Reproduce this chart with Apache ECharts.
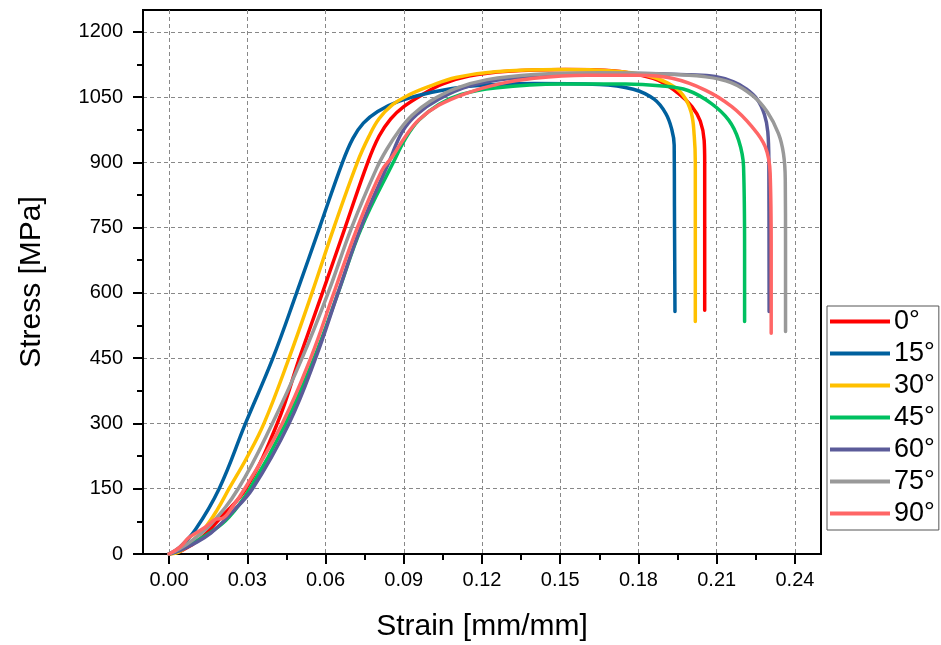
<!DOCTYPE html>
<html>
<head>
<meta charset="utf-8">
<script src="https://cdn.jsdelivr.net/npm/echarts@6/dist/echarts.min.js"></script>
<style>
  html, body { margin: 0; padding: 0; background: #fff; }
  #chart { width: 941px; height: 645px; }
</style>
</head>
<body>
<div id="chart"></div>
<script>
// Tensile test curves: stress [MPa] against strain [mm/mm] for seven orientations.
const seriesNames = ['0°', '15°', '30°', '45°', '60°', '75°', '90°'];

const curve0 = [[0,0],[0.005,8],[0.012,35],[0.02,85],[0.0295,150],[0.0415,300],[0.05,450],[0.0588,600],[0.0675,750],[0.0762,900],[0.0805,960],[0.085,1000],[0.09,1028],[0.097,1055],[0.105,1080],[0.115,1098],[0.13,1109],[0.152,1113],[0.1711,1110],[0.181,1100],[0.1877,1088],[0.1954,1058],[0.2005,1028],[0.2037,995],[0.2052,950],[0.2054,900],[0.2054,560]];
const curve15 = [[0,0],[0.004,15],[0.01,55],[0.0192,150],[0.0293,300],[0.0398,450],[0.0489,600],[0.0577,750],[0.0665,900],[0.0705,955],[0.0745,990],[0.08,1017],[0.088,1040],[0.1,1060],[0.115,1075],[0.14,1081],[0.165,1079],[0.178,1068],[0.186,1045],[0.1905,1012],[0.1928,975],[0.1937,940],[0.1938,800],[0.194,557]];
const curve30 = [[0,0],[0.004,5],[0.0085,28],[0.014,62],[0.0185,102],[0.023,150],[0.0297,220],[0.0364,300],[0.046,450],[0.0548,600],[0.0632,750],[0.0722,900],[0.0766,959],[0.0805,1000],[0.0856,1032],[0.092,1055],[0.1,1075],[0.11,1095],[0.125,1108],[0.15,1113],[0.17,1110],[0.183,1100],[0.1916,1081],[0.197,1055],[0.2002,1015],[0.2014,960],[0.2018,900],[0.2018,534]];
const curve45 = [[0,0],[0.004,8],[0.009,25],[0.016,50],[0.023,85],[0.031,150],[0.0447,300],[0.0556,450],[0.0648,600],[0.0738,750],[0.086,900],[0.0907,955],[0.0958,997],[0.1034,1033],[0.112,1056],[0.125,1071],[0.15,1080],[0.175,1080],[0.188,1076],[0.199,1065],[0.208,1035],[0.2146,997],[0.2184,951],[0.2203,890],[0.2207,700],[0.2207,534]];
const curve60 = [[0,0],[0.004,8],[0.009,22],[0.016,48],[0.024,95],[0.032,150],[0.046,300],[0.0562,450],[0.0648,600],[0.0735,750],[0.0843,900],[0.0894,970],[0.095,1010],[0.1034,1045],[0.115,1075],[0.13,1092],[0.15,1101],[0.18,1104],[0.2,1101],[0.2094,1097],[0.2165,1085],[0.221,1070],[0.2255,1045],[0.2283,1010],[0.2296,970],[0.23,900],[0.2301,557]];
const curve75 = [[0,0],[0.004,12],[0.009,32],[0.016,68],[0.0265,150],[0.0396,300],[0.051,450],[0.061,600],[0.07,750],[0.0795,885],[0.0835,930],[0.0881,972],[0.0932,1008],[0.1,1040],[0.11,1070],[0.122,1090],[0.14,1102],[0.165,1106],[0.19,1103],[0.205,1097],[0.2155,1083],[0.224,1052],[0.2295,1015],[0.2337,966],[0.2356,920],[0.2363,860],[0.2364,700],[0.2364,511]];
const curve90 = [[0,0],[0.004,15],[0.0077,38],[0.014,62],[0.018,80],[0.0205,82],[0.0245,110],[0.029,150],[0.0434,300],[0.0543,450],[0.0632,600],[0.0722,750],[0.0815,880],[0.0856,913],[0.0907,960],[0.0958,998],[0.1034,1031],[0.1137,1058],[0.125,1078],[0.14,1093],[0.16,1100],[0.18,1100],[0.1929,1093],[0.2056,1066],[0.2158,1028],[0.2235,982],[0.2286,936],[0.2305,875],[0.2309,700],[0.2309,507]];

const curves = [curve0, curve15, curve30, curve45, curve60, curve75, curve90];
const colors = ['#FF0000', '#00609E', '#FFC000', '#00C060', '#5B5B99', '#999999', '#FF6666'];

// Axis tick positions
const strainTicks = [0, 0.03, 0.06, 0.09, 0.12, 0.15, 0.18, 0.21, 0.24];
const strainMinorTicks = [0.015, 0.045, 0.075, 0.105, 0.135, 0.165, 0.195, 0.225];
const stressTicks = [0, 150, 300, 450, 600, 750, 900, 1050, 1200];
const stressMinorTicks = [75, 225, 375, 525, 675, 825, 975, 1125];

const FONT = 'Liberation Sans, Arial, sans-serif';
const chart = echarts.init(document.getElementById('chart'), null, { renderer: 'canvas' });

const xRange = { min: -0.01, max: 0.25 };
const yRange = { min: 0, max: 1250 };

chart.setOption({
  animation: false,
  backgroundColor: '#fff',
  grid: {
    left: 143, right: 120, top: 10, bottom: 91,
    outerBoundsMode: 'none',
    show: true, borderColor: '#000', borderWidth: 2, backgroundColor: 'transparent'
  },
  legend: {
    orient: 'vertical',
    left: 827, top: 306,
    width: 113,
    padding: [2, 4, 3, 3],
    itemGap: 5,
    itemWidth: 60, itemHeight: 4,
    icon: 'rect',
    borderColor: '#555', borderWidth: 1,
    textStyle: { fontFamily: FONT, fontSize: 27, color: '#000', padding: [0, 0, 0, -1] },
    data: seriesNames
  },
  xAxis: [{
    type: 'value', position: 'bottom',
    min: xRange.min, max: xRange.max,
    name: 'Strain [mm/mm]', nameLocation: 'middle', nameGap: 58,
    nameTextStyle: { fontFamily: FONT, fontSize: 30, color: '#000' },
    axisLine: { show: true, onZero: false, lineStyle: { color: '#000', width: 2 } },
    axisTick: { show: true, inside: false, length: 10, customValues: strainTicks, lineStyle: { color: '#000', width: 2 } },
    axisLabel: { customValues: strainTicks, margin: 16, fontFamily: FONT, fontSize: 20, color: '#000',
      formatter: v => v.toFixed(2) },
    splitLine: { show: true, lineStyle: { color: '#888', width: 1, type: [4, 3] } }
  }, {
    type: 'value', position: 'bottom',
    min: xRange.min, max: xRange.max,
    axisLine: { show: false, onZero: false },
    axisTick: { show: true, inside: false, length: 6, customValues: strainMinorTicks, lineStyle: { color: '#000', width: 2 } },
    axisLabel: { show: false },
    splitLine: { show: false }
  }],
  yAxis: [{
    type: 'value', position: 'left',
    min: yRange.min, max: yRange.max,
    name: 'Stress [MPa]', nameLocation: 'middle', nameGap: 96, nameRotate: 90,
    nameTextStyle: { fontFamily: FONT, fontSize: 30, color: '#000' },
    axisLine: { show: true, onZero: false, lineStyle: { color: '#000', width: 2 } },
    axisTick: { show: true, inside: false, length: 10, customValues: stressTicks, lineStyle: { color: '#000', width: 2 } },
    axisLabel: { customValues: stressTicks, margin: 20, fontFamily: FONT, fontSize: 20, color: '#000',
      formatter: v => String(v) },
    splitLine: { show: true, lineStyle: { color: '#888', width: 1, type: [4, 3] } }
  }, {
    type: 'value', position: 'left',
    min: yRange.min, max: yRange.max,
    axisLine: { show: false, onZero: false },
    axisTick: { show: true, inside: false, length: 6, customValues: stressMinorTicks, lineStyle: { color: '#000', width: 2 } },
    axisLabel: { show: false },
    splitLine: { show: false }
  }],
  series: curves.map((data, i) => ({
    name: seriesNames[i],
    type: 'line',
    xAxisIndex: 0, yAxisIndex: 0,
    data: data,
    smooth: 0.4,
    showSymbol: false,
    symbol: 'none',
    color: colors[i],
    lineStyle: { color: colors[i], width: 3.5, cap: 'round', join: 'round' }
  }))
});
</script>
</body>
</html>
